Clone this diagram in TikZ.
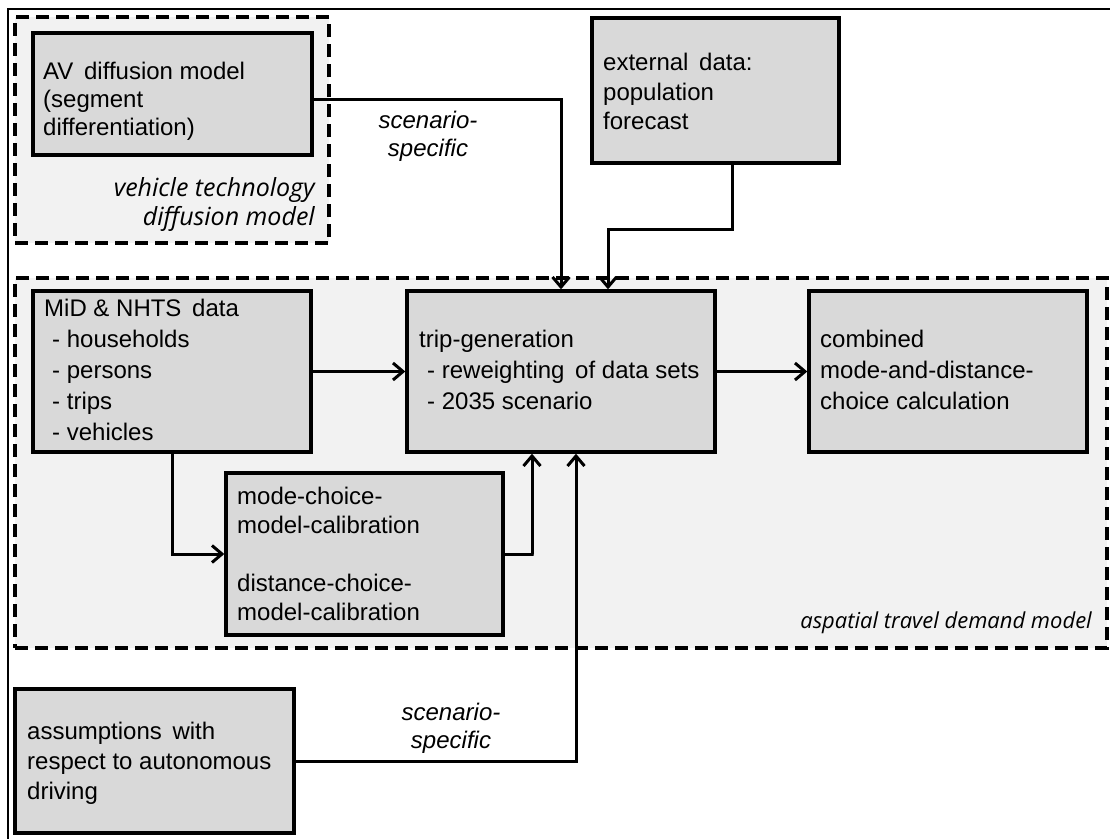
\documentclass[tikz,border=0pt]{standalone}
\usepackage{fontspec}
\setmainfont{Liberation Sans}
\newfontfamily\lblfont{Open Sans}
\usetikzlibrary{arrows.meta}
\definecolor{boxgray}{HTML}{D9D9D9}
\definecolor{regiongray}{HTML}{F2F2F2}
\begin{document}
\begin{tikzpicture}[x=1pt,y=-1pt,
  box/.style={draw=black, fill=boxgray, line width=3.4pt, inner sep=0pt},
  region/.style={draw=black, fill=regiongray, line width=3.4pt, dash pattern=on 13pt off 7pt, inner sep=0pt},
  txt/.style={inner sep=0pt, anchor=north west, align=left},
  ital/.style={inner sep=0pt, font=\fontsize{24}{28}\selectfont\itshape},
  frlabel/.style={inner sep=0pt, anchor=north east, align=right, font=\lblfont\fontsize{22}{29}\selectfont\itshape},
  conn/.style={line width=3pt, -{Straight Barb[length=10pt,width=17pt,line width=3pt]}},
]
\useasboundingbox (0,0) rectangle (1110,838);
\fill[white] (0,0) rectangle (1110,838);
% outer frame
\draw[line width=2.2pt] (8,850) -- (8,9) -- (1120,9);

% regions
\node[region, minimum width=314pt, minimum height=226pt] (veh) at (172,130) {};
\node[region, minimum width=1092pt, minimum height=370pt] (asp) at (561,463) {};

% boxes
\node[box, minimum width=279pt, minimum height=122pt] (av) at (172.5,94) {};
\node[box, minimum width=247pt, minimum height=145pt] (ext) at (715.5,90.5) {};
\node[box, minimum width=278pt, minimum height=161pt] (mid) at (172,371.5) {};
\node[box, minimum width=308pt, minimum height=161pt] (trip) at (561,371.5) {};
\node[box, minimum width=278pt, minimum height=161pt] (comb) at (948,371.5) {};
\node[box, minimum width=277pt, minimum height=162pt] (mode) at (364.5,554) {};
\node[box, minimum width=279pt, minimum height=144pt] (assume) at (154.5,761) {};

% box texts
\node[txt, font=\fontsize{24}{28}\selectfont] (avt) at (43,62)
  {AV\hspace{4pt} diffusion model\\(segment\\differentiation)};
\node[txt, font=\fontsize{24}{29.5}\selectfont] (extt) at (603,53)
  {external\hspace{4pt} data:\\population\\forecast};
\node[txt, font=\fontsize{24}{31}\selectfont] (midt) at (44,299)
  {MiD \& NHTS\hspace{4pt} data\\\hspace*{8pt}- households\\\hspace*{8pt}- persons\\\hspace*{8pt}- trips\\\hspace*{8pt}- vehicles};
\node[txt, font=\fontsize{24}{31}\selectfont] (tript) at (419,330)
  {trip-generation\\\hspace*{8pt}- reweighting\hspace{4pt} of data sets\\\hspace*{8pt}- 2035 scenario};
\node[txt, font=\fontsize{24}{31}\selectfont] (combt) at (820,330)
  {combined\\mode-and-distance-\\choice calculation};
\node[txt, font=\fontsize{24}{29}\selectfont] (modet) at (237,487)
  {mode-choice-\\model-calibration\\[29pt]distance-choice-\\model-calibration};
\node[txt, font=\fontsize{24}{30}\selectfont] (assumet) at (27,722)
  {assumptions\hspace{4pt} with\\respect to autonomous\\driving};

% region labels
\node[frlabel, font=\lblfont\fontsize{25}{29}\selectfont\itshape] (vehl) at (315,177) {vehicle technology\\diffusion model};
\node[frlabel] (aspl) at (1092,612) {aspatial travel demand model};

% scenario labels
\node[ital, align=center] (sc1) at (428,136) {scenario-\\specific};
\node[ital, align=center] (sc2) at (451,728) {scenario-\\specific};

% connectors
\draw[conn] ([yshift=-5pt]av.east) -| (trip.north);
\draw[conn] ([xshift=16.5pt]ext.south) -- ++(0,65) -| ([xshift=47pt]trip.north);
\draw[conn] (mid.east) -- (trip.west);
\draw[conn] (trip.east) -- (comb.west);
\draw[conn] (mid.south) |- (mode.west);
\draw[conn] (mode.east) -- ++(29,0) -| ([xshift=-29pt]trip.south);
\draw[conn] (assume.east) -| ([xshift=15pt]trip.south);
\end{tikzpicture}
\end{document}
